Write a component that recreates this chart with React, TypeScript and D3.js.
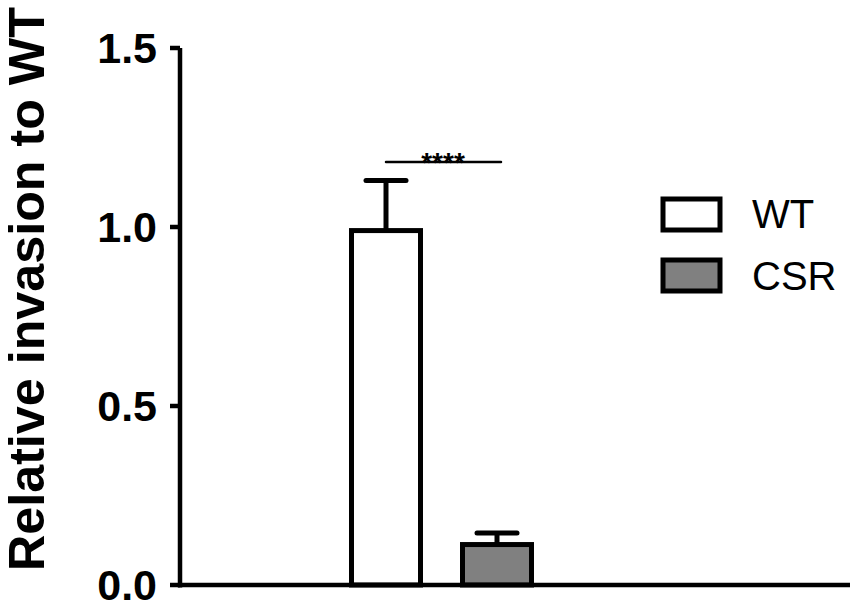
import React from "react";
import * as d3 from "d3";

const categories = ["WT", "CSR"];
const means = [0.99, 0.113];
const errUpper = [1.13, 0.145];
const fills = ["#ffffff", "#808080"];
const yTicks = [0, 0.5, 1.0, 1.5];
const sigLabel = "****";
const yTitle = "Relative invasion to WT";

export default function App() {
  const W = 851, H = 607;
  const y = d3.scaleLinear().domain([0, 1.5]).range([585, 48]);
  const x = d3.scalePoint<string>().domain(categories).range([386, 497]);
  const barW = 69;
  const capW = 40;
  const font = "Arial, 'Liberation Sans', Helvetica, sans-serif";
  const axisX = 180;

  return (
    <svg width={W} height={H} style={{ position: "absolute", left: 0, top: 0, background: "#fff" }}>
      <rect x={0} y={0} width={W} height={H} fill="#fff" />
      {/* y title */}
      <text
        transform={`translate(44, ${289}) rotate(-90)`}
        textAnchor="middle"
        fontFamily={font}
        fontWeight="bold"
        fontSize={50}
        textLength={564}
        lengthAdjust="spacingAndGlyphs"
        fill="#000"
      >
        {yTitle}
      </text>
      {/* y axis */}
      <line x1={axisX} x2={axisX} y1={y(1.5)} y2={y(0) + 2.5} stroke="#000" strokeWidth={4.5} />
      {yTicks.map((t) => (
        <g key={t}>
          <line x1={axisX - 10} x2={axisX} y1={y(t)} y2={y(t)} stroke="#000" strokeWidth={4.5} />
          <text
            x={157}
            y={y(t)}
            dy="0.36em"
            textAnchor="end"
            fontFamily={font}
            fontWeight="bold"
            fontSize={43}
            fill="#000"
          >
            {d3.format(".1f")(t)}
          </text>
        </g>
      ))}
      {/* bars */}
      {categories.map((c, i) => {
        const cx = x(c)!;
        return (
          <g key={c}>
            <line x1={cx} x2={cx} y1={y(means[i])} y2={y(errUpper[i])} stroke="#000" strokeWidth={5} />
            <line
              x1={cx - capW / 2}
              x2={cx + capW / 2}
              y1={y(errUpper[i])}
              y2={y(errUpper[i])}
              stroke="#000"
              strokeWidth={5}
              strokeLinecap="round"
            />
            <rect
              x={cx - barW / 2}
              y={y(means[i])}
              width={barW}
              height={y(0) - y(means[i])}
              fill={fills[i]}
              stroke="#000"
              strokeWidth={5}
            />
          </g>
        );
      })}
      {/* x axis */}
      <line x1={axisX - 2} x2={850} y1={y(0)} y2={y(0)} stroke="#000" strokeWidth={4.5} />
      {/* significance */}
      <line x1={386} x2={501} y1={162} y2={162} stroke="#000" strokeWidth={2.5} strokeLinecap="round" />
      <text x={443} y={172} textAnchor="middle" fontFamily={font} fontWeight="bold" fontSize={28} fill="#000">
        {sigLabel}
      </text>
      {/* legend */}
      {categories.map((c, i) => (
        <g key={c}>
          <rect x={663} y={199 + i * 61} width={57} height={31} fill={fills[i]} stroke="#000" strokeWidth={5} />
          <text x={752} y={228 + i * 62} fontFamily={font} fontSize={40} fill="#000">
            {c}
          </text>
        </g>
      ))}
    </svg>
  );
}
